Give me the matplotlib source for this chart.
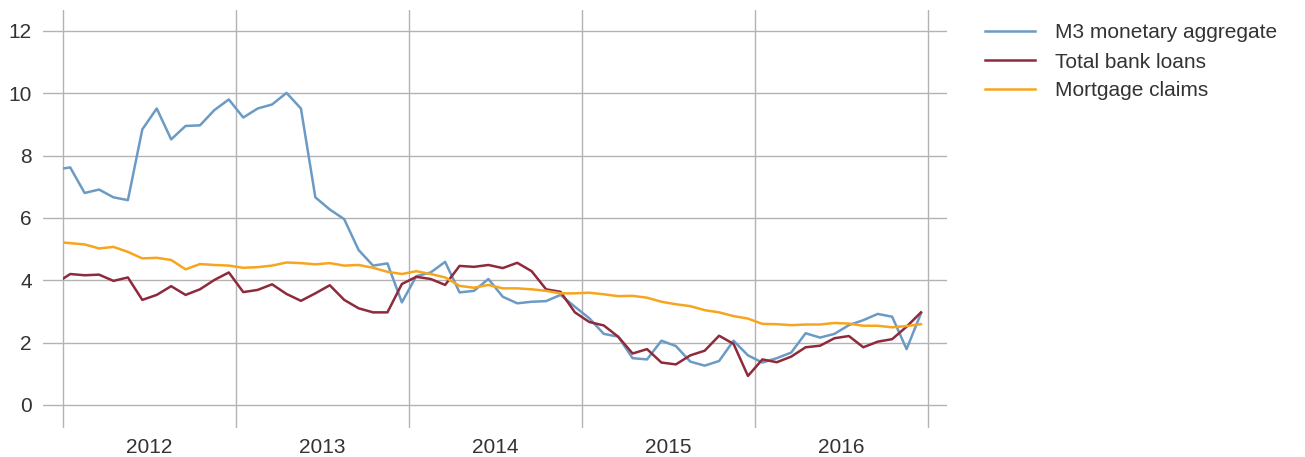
import numpy as np
import matplotlib
matplotlib.use("Agg")
import matplotlib.pyplot as plt
from matplotlib.patches import Rectangle

plt.rcParams['font.family'] = ['Liberation Sans', 'DejaVu Sans']

# Monthly values, Dec 2011 .. Dec 2016 (year-on-year growth, %)
m3 = [7.55,
      7.62, 6.80, 6.91, 6.66, 6.57, 8.84, 9.51, 8.52, 8.95, 8.97, 9.46, 9.80,
      9.22, 9.51, 9.64, 10.01, 9.51, 6.66, 6.27, 5.96, 4.97, 4.47, 4.54, 3.29,
      4.13, 4.25, 4.59, 3.61, 3.66, 4.04, 3.47, 3.26, 3.31, 3.33, 3.53, 3.15,
      2.78, 2.28, 2.19, 1.50, 1.46, 2.06, 1.89, 1.39, 1.26, 1.41, 2.06, 1.59,
      1.36, 1.50, 1.68, 2.30, 2.16, 2.28, 2.56, 2.72, 2.92, 2.83, 1.79, 2.94]
loans = [3.90,
         4.20, 4.16, 4.18, 3.98, 4.09, 3.37, 3.53, 3.81, 3.53, 3.71, 4.01, 4.25,
         3.62, 3.69, 3.87, 3.56, 3.34, 3.58, 3.84, 3.37, 3.10, 2.97, 2.97, 3.88,
         4.11, 4.04, 3.85, 4.46, 4.43, 4.49, 4.39, 4.56, 4.29, 3.71, 3.63, 2.97,
         2.66, 2.55, 2.19, 1.65, 1.79, 1.36, 1.30, 1.59, 1.74, 2.22, 1.96, 0.93,
         1.46, 1.37, 1.55, 1.85, 1.90, 2.14, 2.21, 1.85, 2.03, 2.11, 2.51, 2.97]
mortgage = [5.23,
            5.19, 5.15, 5.02, 5.07, 4.91, 4.70, 4.72, 4.65, 4.35, 4.52, 4.49, 4.47,
            4.40, 4.42, 4.47, 4.57, 4.55, 4.51, 4.55, 4.47, 4.49, 4.40, 4.27, 4.20,
            4.29, 4.20, 4.09, 3.82, 3.76, 3.85, 3.74, 3.74, 3.71, 3.66, 3.58, 3.58,
            3.60, 3.55, 3.49, 3.50, 3.44, 3.31, 3.23, 3.17, 3.04, 2.97, 2.85, 2.77,
            2.60, 2.59, 2.56, 2.58, 2.58, 2.63, 2.61, 2.54, 2.54, 2.49, 2.53, 2.59]
years = ["2012", "2013", "2014", "2015", "2016"]

# months since 1 Jan 2012, plotted mid-month
x = np.arange(-1, len(m3) - 1) + 0.5

fig = plt.figure(figsize=(13.05, 4.57), dpi=100)
ax = fig.add_axes([43 / 1305, 1 - 428 / 457, (947 - 43) / 1305, 418 / 457])
ax.set_xlim(-20 / 14.42, (947 - 63) / 14.42)
ax.set_ylim(-0.74, 12.67)

grid_col = "#b3b3b3"
for s in ax.spines.values():
    s.set_visible(False)
ax.set_yticks(range(0, 13, 2))
for v in range(0, 13, 2):
    ax.axhline(v, color=grid_col, lw=1.0, zorder=0)
for i in range(len(years) + 1):
    ax.axvline(12 * i, color=grid_col, lw=1.0, zorder=0)

ax.set_xticks([12 * i + 6 for i in range(len(years))])
ax.set_xticklabels(years)
ax.tick_params(axis='both', length=0, labelsize=15, colors="#333333")
ax.tick_params(axis='x', pad=7)
ax.tick_params(axis='y', pad=8)

clip = Rectangle((0, -1), 60, 15, transform=ax.transData, visible=False)
ax.add_patch(clip)

series = [(m3, "M3 monetary aggregate", "#6b9bc4"),
          (loans, "Total bank loans", "#8e2a3b"),
          (mortgage, "Mortgage claims", "#f7a51e")]
for vals, name, col in series:
    ln, = ax.plot(x, vals, color=col, lw=1.8, label=name, zorder=3)
    ln.set_clip_path(clip)

leg = ax.legend(loc='upper left', bbox_to_anchor=(985 / 1305, 1 - 23.5 / 457),
                bbox_transform=fig.transFigure, frameon=False, fontsize=15,
                handlelength=2.4, handletextpad=0.96, labelspacing=0.48,
                borderpad=0, borderaxespad=0, labelcolor="#333333")

fig.savefig("out.png", dpi=100)
